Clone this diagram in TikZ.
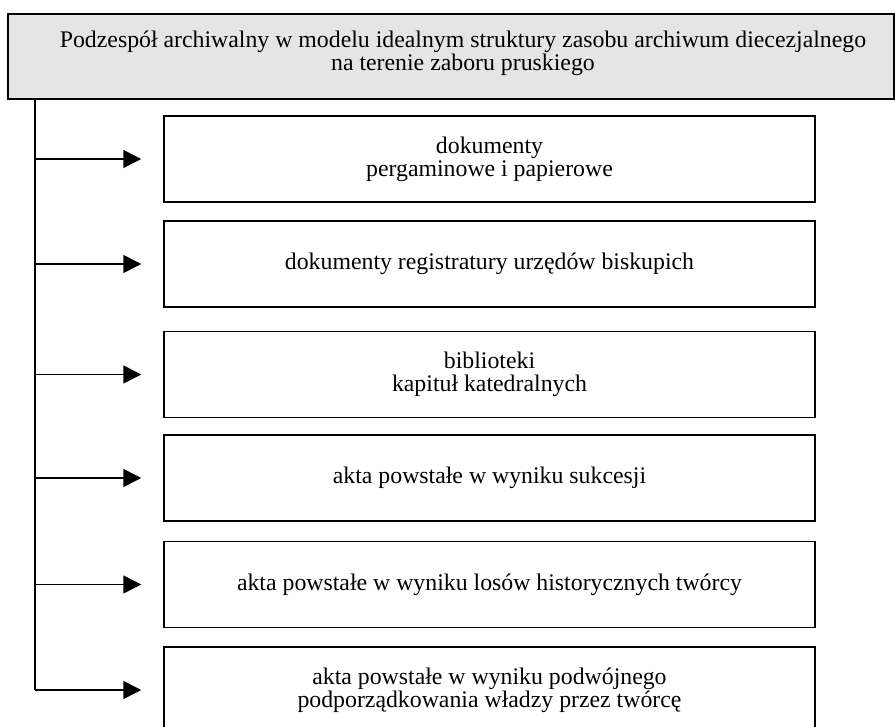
\documentclass[tikz,border=0pt]{standalone}
\usepackage{fontspec}
\setmainfont{Liberation Serif}
\usetikzlibrary{arrows.meta}

\tikzset{
  txt/.style={align=center,font=\fontsize{11.9}{11.4}\selectfont},
  box/.style={draw,line width=0.75pt,minimum width=325.5pt,minimum height=43pt,inner sep=0pt,txt},
  headbox/.style={draw,line width=0.75pt,fill=black!10,minimum width=443pt,minimum height=42.5pt,inner sep=0pt},
  link/.style={line width=0.75pt,-{Triangle[length=9pt,width=9pt]},shorten >=11pt}
}

\begin{document}
\begin{tikzpicture}[x=0.5pt,y=-0.5pt]
         \useasboundingbox (0,0) rectangle (895,727) ;
         % naglowek
         \node[headbox] (head) at (451,56.5) {} ;
         \node[txt] (headtxt) at (463,53) {Podzespół archiwalny w modelu idealnym struktury zasobu archiwum diecezjalnego\\na terenie zaboru pruskiego} ;
         % skladniki
         \node[box] (b1) at (489.5,159) {dokumenty\\pergaminowe i papierowe} ;
         \node[box] (b2) at (489.5,264) {dokumenty registratury urzędów biskupich} ;
         \node[box] (b3) at (489.5,374.5) {biblioteki\\kapituł katedralnych} ;
         \node[box] (b4) at (489.5,478) {akta powstałe w wyniku sukcesji} ;
         \node[box] (b5) at (489.5,584.5) {akta powstałe w wyniku losów historycznych twórcy} ;
         \node[box] (b6) at (489.5,690) {akta powstałe w wyniku podwójnego\\podporządkowania władzy przez twórcę} ;
         % linia pionowa
         \coordinate (top) at ([xshift=13.75pt]head.south west) ;
         \coordinate (bottom) at (top |- b6.west) ;
         \draw[line width=0.75pt] (top) -- (bottom) ;
         \draw[link] (top |- b1.west) -- (b1.west) ;
         \draw[link] (top |- b2.west) -- (b2.west) ;
         \draw[link] (top |- b3.west) -- (b3.west) ;
         \draw[link] (top |- b4.west) -- (b4.west) ;
         \draw[link] (top |- b5.west) -- (b5.west) ;
         \draw[link] (bottom) -- (b6.west) ;
      \end{tikzpicture}
\end{document}
